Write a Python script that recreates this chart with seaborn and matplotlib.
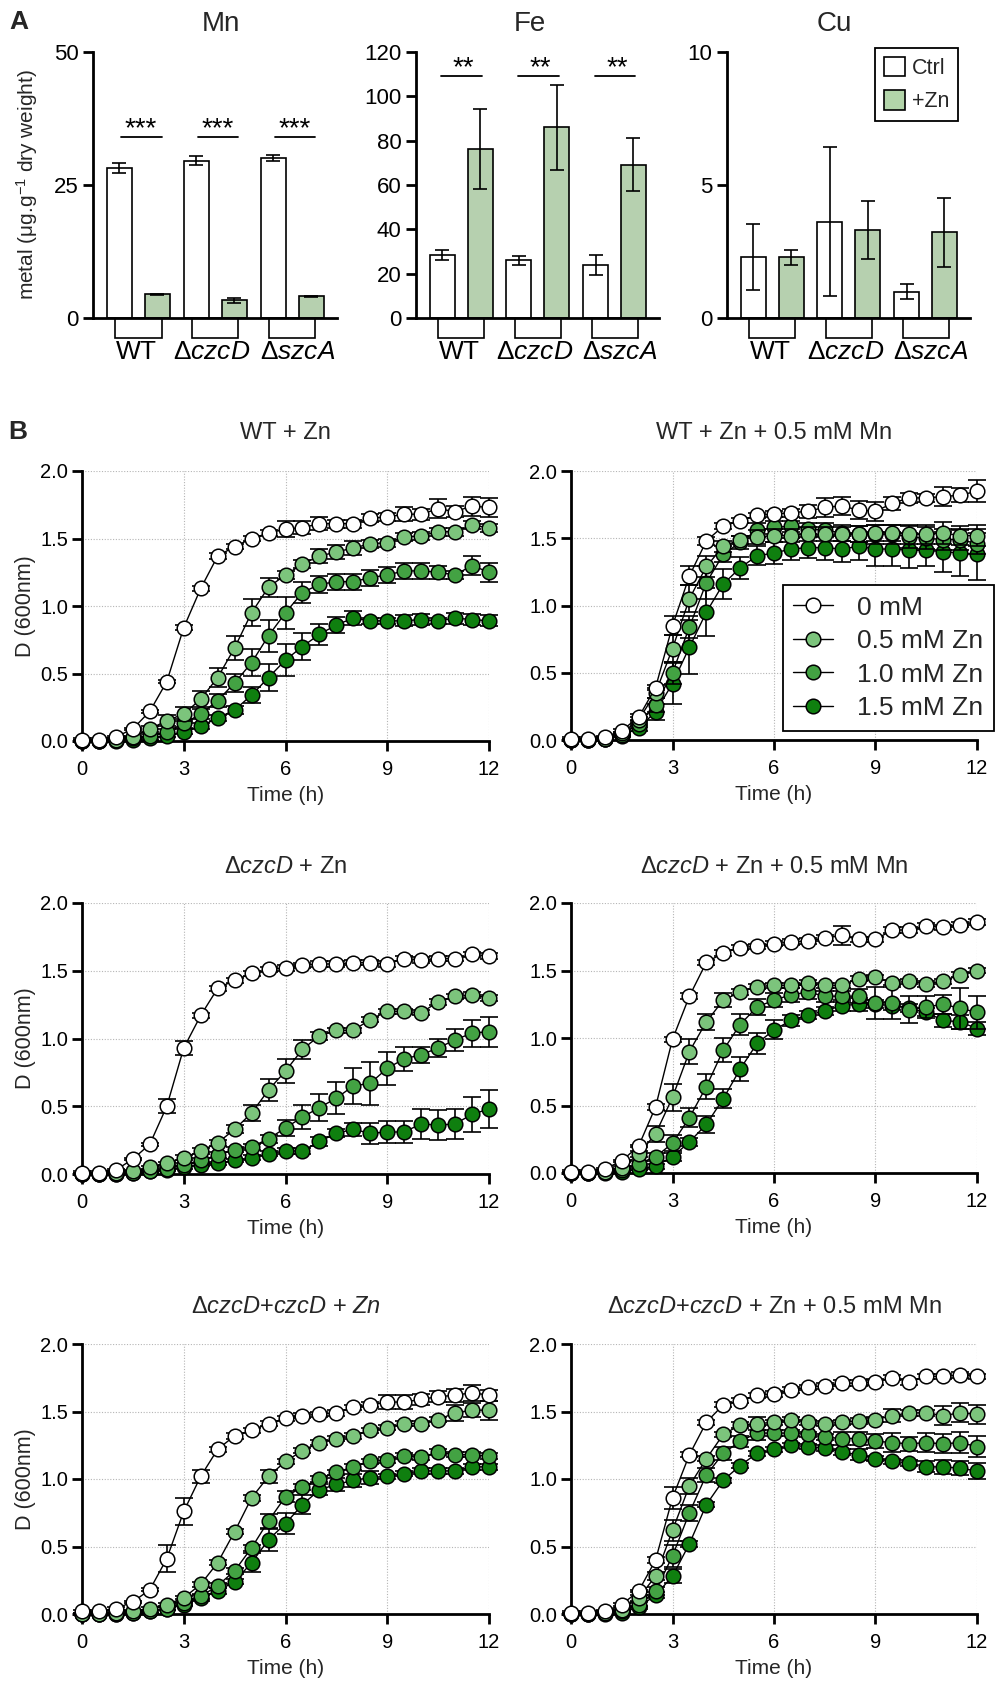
import numpy as np
import pandas as pd
import matplotlib
matplotlib.use("Agg")
import matplotlib.pyplot as plt
import seaborn as sns
from matplotlib.patches import Rectangle, Patch
from matplotlib.lines import Line2D

# ---------------- DATA: panel A (metal content, mean and SD) ----------------
STRAINS = ["WT", "ΔczcD", "ΔszcA"]
STRAIN_LABELS = ["WT", "Δ$\\mathit{czcD}$", "Δ$\\mathit{szcA}$"]
TREATMENTS = ["Ctrl", "+Zn"]

MN_CTRL = [28.2, 29.6, 30.1]
MN_CTRL_SD = [0.9, 0.8, 0.5]
MN_ZN = [4.45, 3.3, 4.05]
MN_ZN_SD = [0.15, 0.4, 0.15]

FE_CTRL = [28.3, 26.0, 23.8]
FE_CTRL_SD = [2.2, 2.0, 4.5]
FE_ZN = [76.4, 86.0, 69.2]
FE_ZN_SD = [18.0, 19.3, 12.0]

CU_CTRL = [2.29, 3.61, 0.99]
CU_CTRL_SD = [1.25, 2.8, 0.27]
CU_ZN = [2.29, 3.31, 3.23]
CU_ZN_SD = [0.28, 1.1, 1.3]

# ---------------- DATA: panel B (growth curves, OD600 mean and SD) ----------------
TIME = [0, 0.5, 1, 1.5, 2, 2.5, 3, 3.5, 4, 4.5, 5, 5.5, 6,
        6.5, 7, 7.5, 8, 8.5, 9, 9.5, 10, 10.5, 11, 11.5, 12]
CONC_LABELS = ["0 mM", "0.5 mM Zn", "1.0 mM Zn", "1.5 mM Zn"]

# WT + Zn
WT_ZN_0 = [0.01,0.01,0.03,0.09,0.22,0.44,0.84,1.13,1.37,1.44,1.50,1.54,1.57,1.58,1.61,1.61,1.61,1.65,1.66,1.68,1.68,1.72,1.70,1.74,1.73]
WT_ZN_0_SD = [0.01,0.01,0.01,0.01,0.01,0.01,0.02,0.02,0.02,0.02,0.02,0.02,0.06,0.05,0.05,0.03,0.03,0.03,0.03,0.05,0.04,0.07,0.04,0.07,0.07]
WT_ZN_05 = [0.00,0.00,0.01,0.03,0.09,0.15,0.20,0.31,0.47,0.69,0.95,1.14,1.23,1.31,1.37,1.40,1.43,1.46,1.47,1.51,1.52,1.55,1.55,1.60,1.58]
WT_ZN_05_SD = [0.01,0.01,0.01,0.01,0.02,0.04,0.05,0.06,0.07,0.09,0.10,0.07,0.03,0.03,0.05,0.05,0.05,0.03,0.03,0.03,0.03,0.03,0.03,0.03,0.03]
WT_ZN_10 = [0.00,0.00,0.01,0.02,0.04,0.07,0.13,0.20,0.30,0.43,0.58,0.78,0.95,1.10,1.16,1.18,1.18,1.21,1.23,1.26,1.26,1.25,1.23,1.30,1.25]
WT_ZN_10_SD = [0.01,0.01,0.01,0.01,0.01,0.02,0.03,0.04,0.05,0.07,0.10,0.12,0.12,0.08,0.06,0.06,0.06,0.06,0.06,0.06,0.06,0.05,0.03,0.07,0.07]
WT_ZN_15 = [0.00,0.00,0.00,0.01,0.02,0.04,0.07,0.11,0.17,0.23,0.34,0.47,0.60,0.70,0.79,0.86,0.91,0.89,0.89,0.89,0.90,0.89,0.91,0.90,0.89]
WT_ZN_15_SD = [0.01,0.01,0.01,0.01,0.01,0.01,0.02,0.02,0.02,0.03,0.06,0.10,0.12,0.10,0.08,0.06,0.05,0.02,0.02,0.04,0.04,0.02,0.04,0.04,0.04]

# WT + Zn + 0.5 mM Mn
WT_MN_0 = [0.01,0.01,0.02,0.07,0.17,0.39,0.85,1.22,1.48,1.59,1.63,1.67,1.68,1.69,1.70,1.73,1.74,1.71,1.70,1.76,1.80,1.80,1.81,1.82,1.85]
WT_MN_0_SD = [0.01,0.01,0.01,0.01,0.02,0.02,0.07,0.07,0.03,0.02,0.02,0.02,0.02,0.03,0.05,0.07,0.07,0.07,0.07,0.05,0.04,0.03,0.07,0.05,0.08]
WT_MN_05 = [0.00,0.00,0.01,0.05,0.15,0.35,0.68,1.05,1.29,1.44,1.49,1.51,1.52,1.52,1.53,1.53,1.53,1.53,1.54,1.54,1.53,1.53,1.54,1.52,1.52]
WT_MN_05_SD = [0.01,0.01,0.01,0.01,0.02,0.04,0.10,0.10,0.08,0.04,0.03,0.05,0.05,0.05,0.05,0.05,0.05,0.06,0.06,0.06,0.07,0.07,0.08,0.07,0.08]
WT_MN_10 = [0.00,0.00,0.01,0.04,0.12,0.26,0.50,0.84,1.17,1.38,1.47,1.56,1.58,1.59,1.57,1.56,1.54,1.53,1.53,1.53,1.51,1.50,1.49,1.49,1.46]
WT_MN_10_SD = [0.01,0.01,0.01,0.01,0.02,0.05,0.08,0.08,0.12,0.06,0.05,0.05,0.05,0.04,0.04,0.05,0.06,0.06,0.07,0.07,0.08,0.08,0.08,0.08,0.08]
WT_MN_15 = [0.00,0.00,0.01,0.03,0.09,0.21,0.42,0.69,0.95,1.16,1.28,1.37,1.39,1.42,1.43,1.43,1.42,1.44,1.42,1.42,1.41,1.41,1.40,1.39,1.38]
WT_MN_15_SD = [0.01,0.01,0.01,0.01,0.02,0.06,0.15,0.20,0.18,0.11,0.08,0.07,0.08,0.08,0.08,0.09,0.10,0.10,0.13,0.13,0.13,0.12,0.15,0.17,0.19]

# ΔczcD + Zn
CZ_ZN_0 = [0.01,0.01,0.03,0.11,0.22,0.50,0.93,1.17,1.37,1.43,1.48,1.51,1.52,1.54,1.55,1.55,1.56,1.56,1.55,1.59,1.58,1.59,1.59,1.62,1.61]
CZ_ZN_0_SD = [0.01,0.01,0.01,0.01,0.01,0.05,0.05,0.02,0.02,0.02,0.02,0.02,0.02,0.02,0.02,0.02,0.02,0.02,0.02,0.02,0.02,0.02,0.02,0.02,0.02]
CZ_ZN_05 = [0.00,0.00,0.01,0.02,0.05,0.08,0.12,0.17,0.23,0.33,0.45,0.62,0.76,0.92,1.02,1.06,1.06,1.14,1.20,1.20,1.19,1.27,1.31,1.32,1.30]
CZ_ZN_05_SD = [0.01,0.01,0.01,0.01,0.01,0.01,0.02,0.02,0.02,0.03,0.06,0.08,0.09,0.07,0.03,0.02,0.02,0.02,0.02,0.02,0.02,0.02,0.02,0.02,0.02]
CZ_ZN_10 = [0.00,0.00,0.00,0.01,0.02,0.04,0.07,0.10,0.14,0.18,0.20,0.26,0.34,0.42,0.49,0.56,0.65,0.67,0.78,0.85,0.88,0.93,0.99,1.04,1.05]
CZ_ZN_10_SD = [0.01,0.01,0.01,0.01,0.01,0.01,0.01,0.02,0.02,0.02,0.02,0.03,0.06,0.09,0.10,0.12,0.13,0.16,0.12,0.09,0.06,0.07,0.08,0.10,0.11]
CZ_ZN_15 = [0.00,0.00,0.00,0.01,0.02,0.03,0.05,0.07,0.08,0.10,0.12,0.15,0.17,0.17,0.24,0.30,0.33,0.30,0.31,0.31,0.37,0.36,0.37,0.44,0.48]
CZ_ZN_15_SD = [0.01,0.01,0.01,0.01,0.01,0.01,0.01,0.01,0.01,0.01,0.02,0.02,0.02,0.02,0.03,0.03,0.05,0.08,0.08,0.08,0.11,0.11,0.11,0.13,0.14]

# ΔczcD + Zn + 0.5 mM Mn
CZ_MN_0 = [0.01,0.01,0.03,0.09,0.20,0.49,0.99,1.31,1.56,1.63,1.67,1.68,1.70,1.71,1.72,1.74,1.76,1.73,1.73,1.80,1.80,1.83,1.82,1.84,1.86]
CZ_MN_0_SD = [0.01,0.01,0.01,0.01,0.01,0.02,0.02,0.02,0.02,0.02,0.02,0.02,0.02,0.02,0.02,0.02,0.07,0.02,0.02,0.02,0.02,0.02,0.02,0.02,0.02]
CZ_MN_05 = [0.00,0.00,0.01,0.04,0.14,0.29,0.56,0.90,1.12,1.28,1.34,1.38,1.39,1.39,1.41,1.39,1.39,1.44,1.45,1.41,1.42,1.40,1.42,1.47,1.50]
CZ_MN_05_SD = [0.01,0.01,0.01,0.01,0.02,0.06,0.10,0.09,0.06,0.05,0.02,0.02,0.02,0.02,0.02,0.02,0.02,0.02,0.02,0.02,0.02,0.02,0.02,0.02,0.02]
CZ_MN_10 = [0.00,0.00,0.01,0.02,0.07,0.12,0.22,0.41,0.64,0.91,1.10,1.23,1.28,1.32,1.34,1.31,1.31,1.31,1.26,1.26,1.21,1.23,1.25,1.22,1.19]
CZ_MN_10_SD = [0.01,0.01,0.01,0.01,0.02,0.03,0.06,0.07,0.09,0.09,0.08,0.06,0.05,0.05,0.05,0.04,0.04,0.05,0.12,0.12,0.10,0.08,0.07,0.15,0.12]
CZ_MN_15 = [0.00,0.00,0.00,0.01,0.03,0.05,0.12,0.23,0.36,0.55,0.77,0.96,1.06,1.13,1.17,1.20,1.24,1.25,1.25,1.24,1.22,1.19,1.13,1.12,1.07]
CZ_MN_15_SD = [0.01,0.01,0.01,0.01,0.01,0.02,0.03,0.03,0.06,0.07,0.09,0.08,0.07,0.04,0.03,0.03,0.04,0.05,0.03,0.03,0.03,0.03,0.05,0.05,0.05]

# ΔczcD+czcD + Zn
CO_ZN_0 = [0.02,0.02,0.04,0.09,0.18,0.41,0.76,1.02,1.22,1.32,1.36,1.41,1.45,1.47,1.48,1.49,1.53,1.55,1.57,1.57,1.59,1.61,1.62,1.64,1.62]
CO_ZN_0_SD = [0.01,0.01,0.01,0.01,0.01,0.10,0.10,0.05,0.02,0.02,0.02,0.02,0.02,0.02,0.02,0.02,0.02,0.02,0.05,0.05,0.04,0.04,0.05,0.06,0.04]
CO_ZN_05 = [0.00,0.00,0.01,0.02,0.04,0.07,0.12,0.22,0.38,0.61,0.86,1.02,1.13,1.21,1.27,1.30,1.32,1.36,1.38,1.41,1.41,1.44,1.49,1.51,1.51]
CO_ZN_05_SD = [0.01,0.01,0.01,0.01,0.01,0.01,0.01,0.02,0.02,0.02,0.02,0.05,0.02,0.02,0.02,0.02,0.02,0.02,0.02,0.02,0.02,0.02,0.06,0.05,0.07]
CO_ZN_10 = [0.00,0.00,0.00,0.01,0.02,0.04,0.08,0.13,0.21,0.32,0.49,0.69,0.87,0.94,1.00,1.05,1.09,1.13,1.14,1.17,1.16,1.20,1.18,1.18,1.17]
CO_ZN_10_SD = [0.01,0.01,0.01,0.01,0.01,0.01,0.01,0.02,0.02,0.02,0.02,0.05,0.04,0.02,0.02,0.02,0.02,0.02,0.02,0.02,0.02,0.02,0.02,0.02,0.02]
CO_ZN_15 = [0.00,0.00,0.00,0.01,0.02,0.04,0.07,0.12,0.17,0.24,0.38,0.55,0.67,0.81,0.92,0.96,0.99,1.01,1.02,1.04,1.06,1.06,1.06,1.09,1.09]
CO_ZN_15_SD = [0.01,0.01,0.01,0.01,0.01,0.01,0.01,0.02,0.02,0.02,0.07,0.08,0.08,0.07,0.04,0.05,0.05,0.05,0.02,0.02,0.02,0.02,0.02,0.02,0.02]

# ΔczcD+czcD + Zn + 0.5 mM Mn
CO_MN_0 = [0.01,0.01,0.02,0.07,0.17,0.40,0.86,1.18,1.42,1.55,1.58,1.62,1.63,1.66,1.68,1.69,1.71,1.71,1.72,1.75,1.72,1.76,1.76,1.77,1.76]
CO_MN_0_SD = [0.01,0.01,0.01,0.01,0.01,0.02,0.08,0.02,0.02,0.02,0.02,0.02,0.02,0.02,0.02,0.02,0.02,0.02,0.02,0.02,0.02,0.02,0.02,0.02,0.02]
CO_MN_05 = [0.00,0.00,0.01,0.03,0.12,0.28,0.62,0.95,1.15,1.33,1.40,1.41,1.42,1.44,1.42,1.41,1.42,1.43,1.44,1.47,1.49,1.49,1.47,1.49,1.48]
CO_MN_05_SD = [0.01,0.01,0.01,0.01,0.02,0.03,0.08,0.06,0.02,0.02,0.02,0.05,0.02,0.02,0.02,0.02,0.02,0.02,0.02,0.05,0.02,0.02,0.07,0.07,0.07]
CO_MN_10 = [0.00,0.00,0.01,0.02,0.07,0.17,0.43,0.75,1.03,1.19,1.28,1.34,1.34,1.34,1.33,1.31,1.30,1.30,1.28,1.27,1.26,1.27,1.26,1.27,1.24]
CO_MN_10_SD = [0.01,0.01,0.01,0.01,0.02,0.03,0.08,0.06,0.05,0.05,0.04,0.05,0.02,0.02,0.02,0.02,0.05,0.05,0.05,0.07,0.05,0.07,0.07,0.08,0.08]
CO_MN_15 = [0.00,0.00,0.00,0.01,0.05,0.14,0.28,0.52,0.81,0.99,1.10,1.19,1.22,1.25,1.24,1.23,1.20,1.18,1.15,1.13,1.12,1.09,1.09,1.08,1.06]
CO_MN_15_SD = [0.01,0.01,0.01,0.01,0.01,0.02,0.05,0.02,0.02,0.02,0.02,0.02,0.02,0.02,0.02,0.02,0.02,0.04,0.02,0.02,0.02,0.04,0.05,0.05,0.06]

# ---------------- STYLE ----------------
sns.set_theme(style="ticks")
plt.rcParams["font.family"] = ["Liberation Sans", "DejaVu Sans"]
plt.rcParams["mathtext.fontset"] = "custom"
plt.rcParams["mathtext.rm"] = "Liberation Sans"
plt.rcParams["mathtext.it"] = "Liberation Sans:italic"
plt.rcParams["mathtext.bf"] = "Liberation Sans:bold"

GREEN_BAR = "#b3d5aa"
SERIES_COLORS = ["white", "#7cc47c", "#43a243", "#0f7f0f"]

W, H = 998, 1689


def rect(x0, y0, x1, y1):
    return [x0 / W, 1 - y1 / H, (x1 - x0) / W, (y1 - y0) / H]


def fx(x):
    return x / W


def fy(y):
    return 1 - y / H


def style_axis(ax, lw=2.0, labelsize=13):
    for s in ["top", "right"]:
        ax.spines[s].set_visible(False)
    for s in ["left", "bottom"]:
        ax.spines[s].set_linewidth(lw)
        ax.spines[s].set_color("black")
    ax.tick_params(direction="out", length=7, width=lw, color="black",
                   labelsize=labelsize, labelcolor="black")


fig = plt.figure(figsize=(W / 100, H / 100), dpi=100)
fig.patch.set_facecolor("white")

# ---------------- PANEL A ----------------
panelA = [
    ("Mn", MN_CTRL, MN_CTRL_SD, MN_ZN, MN_ZN_SD, (93, 52, 337, 318), 50, [0, 25, 50], 221,
     "***", 34.0, (-0.23, 0.30)),
    ("Fe", FE_CTRL, FE_CTRL_SD, FE_ZN, FE_ZN_SD, (416, 52, 659, 318), 120, [0, 20, 40, 60, 80, 100, 120], 530,
     "**", 109.2, (-0.26, 0.27)),
    ("Cu", CU_CTRL, CU_CTRL_SD, CU_ZN, CU_ZN_SD, (727, 52, 970, 318), 10, [0, 5, 10], 834,
     None, None, None),
]

for k, (metal, ctrl, ctrl_sd, zn, zn_sd, box, ymax, yt, tx, stars, sy, sx) in enumerate(panelA):
    ax = fig.add_axes(rect(*box))
    ax.set_facecolor("white")
    df = pd.DataFrame({
        "strain": STRAINS * 2,
        "treatment": ["Ctrl"] * 3 + ["+Zn"] * 3,
        "value": list(ctrl) + list(zn),
    })
    sns.barplot(data=df, x="strain", y="value", hue="treatment", order=STRAINS,
                hue_order=TREATMENTS, palette={"Ctrl": "white", "+Zn": GREEN_BAR},
                edgecolor="black", linewidth=1.2, width=0.988, gap=0.342,
                errorbar=None, legend=False, ax=ax, zorder=2)
    bars = sorted(ax.patches, key=lambda p: p.get_x())
    xs = [p.get_x() + p.get_width() / 2 for p in bars]
    hs = [p.get_height() for p in bars]
    sds = []
    for i in range(3):
        sds += [ctrl_sd[i], zn_sd[i]]
    ax.errorbar(xs, hs, yerr=sds, fmt="none", ecolor="black", elinewidth=1.2,
                capsize=5, capthick=1.2, zorder=3)
    ax.set_xlim(-0.59, 2.58)
    ax.set_ylim(0, ymax)
    ax.set_yticks(yt)
    ax.set_yticklabels([str(v) for v in yt])
    style_axis(ax, lw=2.0, labelsize=16)
    ax.tick_params(axis="y", pad=3.5)
    # category labels sit slightly off the group centres, as in the original
    ax.set_xticks([-0.03, 0.955, 2.065])
    ax.set_xticklabels(STRAIN_LABELS, fontsize=19)
    ax.tick_params(axis="x", length=0, pad=15.5)
    ax.set_xlabel("")
    ax.set_ylabel("")
    for i in range(3):
        ax.add_patch(Rectangle((i - 0.3, -0.075), 0.6, 0.075, transform=ax.get_xaxis_transform(),
                               facecolor="white", edgecolor="black", linewidth=1.2, clip_on=False,
                               zorder=1))
    if stars:
        for i in range(3):
            ax.plot([i + sx[0], i + sx[1]], [sy, sy], color="black", lw=1.3, zorder=3)
            ax.text(i + 0.03, sy + ymax * 0.004, stars, ha="center", va="baseline",
                    fontsize=20, color="black")
    fig.text(fx(tx), fy(24), metal, ha="center", va="center", fontsize=20)
    if k == 0:
        ax.set_ylabel("metal (μg.g$^{-1}$ dry weight)", fontsize=15, labelpad=10)
    if k == 2:
        handles = [Patch(facecolor="white", edgecolor="black", linewidth=1.2),
                   Patch(facecolor=GREEN_BAR, edgecolor="black", linewidth=1.2)]
        leg = ax.legend(handles, TREATMENTS, loc="upper left", bbox_to_anchor=(0.609, 1.015),
                        frameon=True, fancybox=False, framealpha=1, edgecolor="black",
                        fontsize=15.5, handlelength=1.0, handleheight=1.0, handletextpad=0.3,
                        labelspacing=0.55, borderpad=0.4, borderaxespad=0)
        leg.get_frame().set_linewidth(1.3)

fig.text(fx(19), fy(22), "A", ha="center", va="center", fontsize=19, fontweight="bold")

# ---------------- PANEL B ----------------
panelB = [
    ("WT + Zn", [WT_ZN_0, WT_ZN_05, WT_ZN_10, WT_ZN_15],
     [WT_ZN_0_SD, WT_ZN_05_SD, WT_ZN_10_SD, WT_ZN_15_SD], (82, 471, 489, 741), 433),
    ("WT + Zn + 0.5 mM Mn", [WT_MN_0, WT_MN_05, WT_MN_10, WT_MN_15],
     [WT_MN_0_SD, WT_MN_05_SD, WT_MN_10_SD, WT_MN_15_SD], (571, 471, 977, 740), 433),
    ("Δ$\\mathit{czcD}$ + Zn", [CZ_ZN_0, CZ_ZN_05, CZ_ZN_10, CZ_ZN_15],
     [CZ_ZN_0_SD, CZ_ZN_05_SD, CZ_ZN_10_SD, CZ_ZN_15_SD], (82, 903, 489, 1174), 867),
    ("Δ$\\mathit{czcD}$ + Zn + 0.5 mM Mn", [CZ_MN_0, CZ_MN_05, CZ_MN_10, CZ_MN_15],
     [CZ_MN_0_SD, CZ_MN_05_SD, CZ_MN_10_SD, CZ_MN_15_SD], (571, 903, 977, 1173), 867),
    ("Δ$\\mathit{czcD}$+$\\mathit{czcD}$ + $\\mathit{Zn}$", [CO_ZN_0, CO_ZN_05, CO_ZN_10, CO_ZN_15],
     [CO_ZN_0_SD, CO_ZN_05_SD, CO_ZN_10_SD, CO_ZN_15_SD], (82, 1344, 489, 1614), 1307),
    ("Δ$\\mathit{czcD}$+$\\mathit{czcD}$ + Zn + 0.5 mM Mn", [CO_MN_0, CO_MN_05, CO_MN_10, CO_MN_15],
     [CO_MN_0_SD, CO_MN_05_SD, CO_MN_10_SD, CO_MN_15_SD], (571, 1344, 977, 1614), 1307),
]

for k, (title, means, sds, box, ty) in enumerate(panelB):
    ax = fig.add_axes(rect(*box))
    ax.set_facecolor("white")
    ax.set_xlim(0, 12)
    ax.set_ylim(0, 2.0)
    ax.set_xticks([0, 3, 6, 9, 12])
    ax.set_yticks([0, 0.5, 1.0, 1.5, 2.0])
    ax.set_yticklabels(["0.0", "0.5", "1.0", "1.5", "2.0"])
    ax.grid(True, linestyle=(0, (1, 1.5)), color="#b5b5b5", linewidth=0.8)
    ax.set_axisbelow(True)
    # draw darkest first so lighter series and 0 mM sit on top
    for j in [3, 2, 1, 0]:
        z = 4 + (3 - j) * 2
        ax.errorbar(TIME, means[j], yerr=sds[j], fmt="none", ecolor="black", elinewidth=1.2,
                    capsize=6.5, capthick=1.2, zorder=z, clip_on=False)
        sns.lineplot(x=TIME, y=means[j], ax=ax, color="black", linewidth=1.0, marker="o",
                     markersize=10.5, markerfacecolor=SERIES_COLORS[j], markeredgecolor="black",
                     markeredgewidth=1.1, errorbar=None, clip_on=False, zorder=z + 1)
    style_axis(ax, lw=2.0, labelsize=14.5)
    ax.tick_params(axis="x", pad=6.5)
    ax.tick_params(axis="y", pad=3)
    ax.set_xlabel("Time (h)", fontsize=15, labelpad=5.5)
    if box[0] < 200:
        ax.set_ylabel("D (600nm)", fontsize=15.5, labelpad=3)
    else:
        ax.set_ylabel("")
    cx = (box[0] + box[2]) / 2
    fig.text(fx(cx), fy(ty), title, ha="center", va="center", fontsize=17)
    if k == 1:
        handles = [Line2D([0], [0], color="black", lw=1.0, marker="o", markersize=10.5,
                          markerfacecolor=c, markeredgecolor="black", markeredgewidth=1.1)
                   for c in SERIES_COLORS]
        leg = ax.legend(handles, CONC_LABELS, loc="upper left", bbox_to_anchor=(0.522, 0.576),
                        frameon=True, fancybox=False, framealpha=1, edgecolor="black",
                        fontsize=19, handlelength=1.5, handletextpad=0.9, labelspacing=0.36,
                        borderpad=0.4, borderaxespad=0)
        leg.get_frame().set_linewidth(1.3)
        leg.set_zorder(20)

fig.text(fx(18), fy(432), "B", ha="center", va="center", fontsize=19, fontweight="bold")

fig.savefig("out.png", dpi=100, facecolor="white")
